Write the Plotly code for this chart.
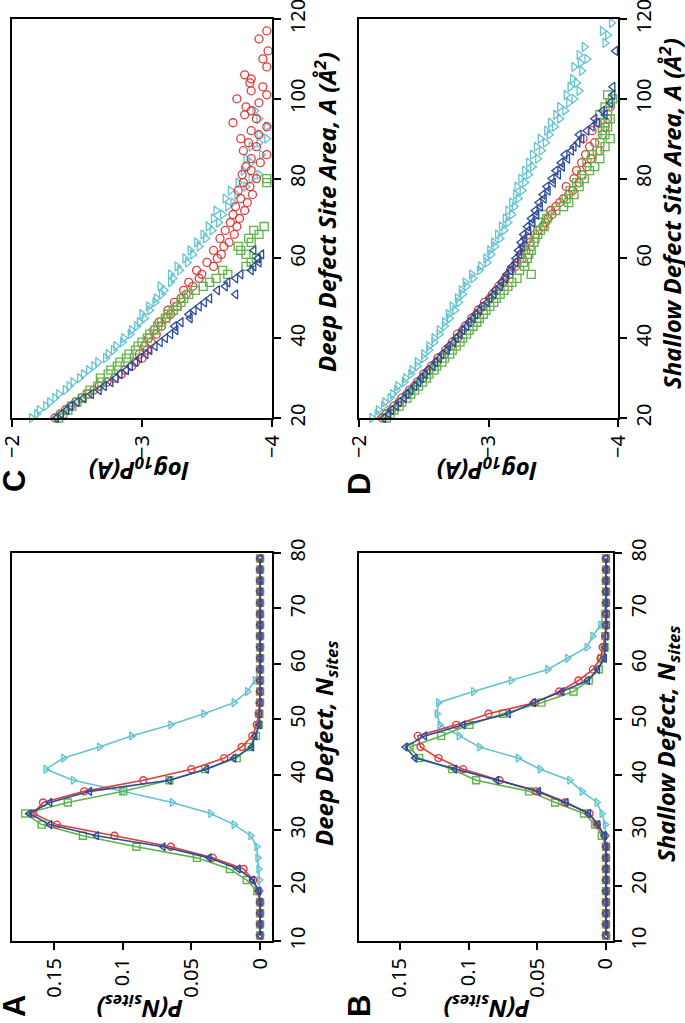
import plotly.graph_objects as go

W, H = 685, 1023

# ---------------- Panels A / B : distributions of N_sites ----------------
N_sites = list(range(11, 80, 2))

deep_red = [0, 0, 0, 0, 0.001, 0.005, 0.012, 0.0345, 0.065, 0.106, 0.148, 0.165, 0.158, 0.128,
            0.085, 0.050, 0.026, 0.0134, 0.0056, 0.0024, 0.001, 0.0003,
            0, 0, 0, 0, 0, 0, 0, 0, 0, 0, 0, 0, 0]
deep_green = [0, 0, 0, 0, 0.002, 0.0097, 0.022, 0.046, 0.090, 0.129, 0.159, 0.171, 0.140, 0.0996,
              0.066, 0.040, 0.017, 0.008, 0.003, 0.001, 0.0005, 0.0,
              0, 0, 0, 0, 0, 0, 0, 0, 0, 0, 0, 0, 0]
deep_blue = [0, 0, 0, 0, 0.001, 0.0053, 0.0158, 0.037, 0.0705, 0.119, 0.153, 0.168, 0.153, 0.124,
             0.066, 0.039, 0.019, 0.006, 0.0036, 0.0005, 0.0003, 0.0,
             0, 0, 0, 0, 0, 0, 0, 0, 0, 0, 0, 0, 0]
deep_cyan = [0, 0, 0, 0, 0.0003, 0.0005, 0.001, 0.0017, 0.0024, 0.0068, 0.019, 0.036, 0.064, 0.100,
             0.136, 0.156, 0.143, 0.117, 0.0936, 0.065, 0.041, 0.019, 0.0092, 0.0036, 0.0005,
             0, 0, 0, 0, 0, 0, 0, 0, 0, 0]

shal_red = [0, 0, 0, 0, 0, 0, 0, 0, 0, 0.001, 0.0066, 0.012, 0.030, 0.051, 0.0775, 0.104, 0.122,
            0.135, 0.137, 0.109, 0.0855, 0.052, 0.034, 0.020, 0.0095, 0.004, 0.0024, 0.0005,
            0, 0, 0, 0, 0, 0, 0]
shal_green = [0, 0, 0, 0, 0, 0, 0, 0, 0, 0.003, 0.0078, 0.016, 0.037, 0.056, 0.0945, 0.112, 0.136,
              0.143, 0.120, 0.0994, 0.075, 0.047, 0.0236, 0.0126, 0.0053, 0.003, 0.001, 0.0005,
              0, 0, 0, 0, 0, 0, 0]
shal_blue = [0, 0, 0, 0, 0, 0, 0, 0, 0, 0.001, 0.0058, 0.0126, 0.029, 0.049, 0.0795, 0.110, 0.139,
             0.146, 0.132, 0.104, 0.071, 0.0527, 0.032, 0.0134, 0.006, 0.001, 0.0005, 0.0,
             0, 0, 0, 0, 0, 0, 0]
shal_cyan = [0, 0, 0, 0, 0, 0, 0, 0, 0, 0, 0.0005, 0.003, 0.0066, 0.0175, 0.0265, 0.048, 0.064,
             0.092, 0.107, 0.121, 0.123, 0.122, 0.0965, 0.069, 0.0425, 0.028, 0.0139, 0.0097,
             0.004, 0.002, 0, 0, 0, 0, 0]

# ---------------- Panel C : deep defect site area ----------------
C_cyan_A = list(range(20, 82)) + [82, 84, 85, 86, 88, 89, 90, 91, 93, 95, 97]
C_cyan_logP = [-2.15, -2.19, -2.21, -2.26, -2.29, -2.33, -2.36, -2.41, -2.44, -2.47,
               -2.52, -2.55, -2.59, -2.63, -2.66, -2.72, -2.74, -2.78, -2.80, -2.85,
               -2.86, -2.91, -2.92, -2.96, -2.98, -3.02, -3.00, -3.06, -3.05, -3.10,
               -3.11, -3.15, -3.17, -3.14, -3.22, -3.24, -3.22, -3.29, -3.27, -3.35,
               -3.33, -3.39, -3.37, -3.44, -3.42, -3.49, -3.47, -3.54, -3.51, -3.59,
               -3.55, -3.62, -3.57, -3.66, -3.70, -3.64, -3.73, -3.68, -3.80, -3.74,
               -3.84, -3.90,
               -3.78, -3.84, -3.80, -3.92, -3.84, -3.90, -3.96, -3.90, -3.96, -3.90, -3.87]

C_red_A = list(range(20, 87)) + [87, 88, 89, 90, 91, 92, 93, 94, 95, 96, 97, 98, 99, 100,
                                 101, 102, 103, 104, 105, 106, 108, 110, 112, 115, 117]
C_red_logP = [-2.33, -2.37, -2.41, -2.45, -2.49, -2.54, -2.58, -2.63, -2.67, -2.73,
              -2.79, -2.84, -2.87, -2.92, -2.95, -3.00, -2.98, -3.04, -3.02, -3.07,
              -3.05, -3.11, -3.09, -3.15, -3.13, -3.19, -3.22, -3.20, -3.27, -3.25,
              -3.30, -3.34, -3.32, -3.39, -3.36, -3.44, -3.46, -3.42, -3.55, -3.50,
              -3.58, -3.61, -3.55, -3.63, -3.67, -3.60, -3.71, -3.64, -3.73, -3.68,
              -3.75, -3.70, -3.79, -3.72, -3.81, -3.76, -3.85, -3.74, -3.83, -3.78,
              -3.88, -3.77, -3.84, -3.80, -3.91, -3.84, -3.96,
              -3.78, -3.88, -3.82, -3.76, -3.90, -3.84, -3.96, -3.70, -3.88, -3.79,
              -3.84, -3.80, -3.90, -3.73, -3.96, -3.84, -3.93, -3.83, -3.84, -3.79,
              -3.96, -3.93, -3.97, -3.90, -3.96]

C_green_A = list(range(20, 69)) + [79, 80]
C_green_logP = [-2.36, -2.39, -2.43, -2.46, -2.50, -2.54, -2.58, -2.60, -2.66, -2.69,
                -2.68, -2.74, -2.76, -2.81, -2.83, -2.88, -2.90, -2.95, -2.97, -3.00,
                -3.04, -3.06, -3.10, -3.12, -3.15, -3.18, -3.20, -3.24, -3.27, -3.30,
                -3.32, -3.36, -3.41, -3.47, -3.52, -3.57, -3.66, -3.62, -3.80, -3.84,
                -3.88, -3.80, -3.76, -3.74, -3.84, -3.82, -3.90, -3.86, -3.94,
                -3.96, -3.96]

C_blue_A = list(range(20, 63))
C_blue_logP = [-2.34, -2.38, -2.42, -2.45, -2.50, -2.55, -2.61, -2.67, -2.71, -2.76,
               -2.80, -2.83, -2.88, -2.91, -2.95, -2.98, -3.03, -3.06, -3.10, -3.14,
               -3.18, -3.22, -3.26, -3.25, -3.30, -3.37, -3.36, -3.40, -3.44, -3.48,
               -3.52, -3.72, -3.58, -3.64, -3.66, -3.72, -3.76, -3.84, -3.86, -3.90,
               -3.89, -3.92, -3.86]

# ---------------- Panel D : shallow defect site area ----------------
D_cyan_A = list(range(20, 106)) + [107, 108, 109, 110, 111, 113, 114, 116, 117, 119]
D_cyan_logP = [-2.10, -2.14, -2.15, -2.19, -2.20, -2.24, -2.26, -2.29, -2.30, -2.35,
               -2.36, -2.40, -2.41, -2.45, -2.45, -2.50, -2.50, -2.54, -2.54, -2.58,
               -2.58, -2.62, -2.62, -2.66, -2.66, -2.70, -2.69, -2.74, -2.72, -2.77,
               -2.76, -2.80, -2.79, -2.83, -2.82, -2.88, -2.87, -2.93, -2.94, -2.99,
               -2.98, -3.02, -3.01, -3.05, -3.04, -3.09, -3.07, -3.12, -3.10, -3.15,
               -3.13, -3.18, -3.15, -3.20, -3.18, -3.23, -3.21, -3.26, -3.22, -3.28,
               -3.25, -3.31, -3.28, -3.34, -3.31, -3.38, -3.34, -3.41, -3.37, -3.44,
               -3.40, -3.47, -3.45, -3.51, -3.48, -3.55, -3.52, -3.59, -3.55, -3.62,
               -3.66, -3.60, -3.70, -3.63, -3.68, -3.65,
               -3.72, -3.66, -3.71, -3.76, -3.70, -3.74, -3.90, -3.92, -3.88, -3.95]

D_blue_A = list(range(20, 98)) + [99, 101, 103, 112]
D_blue_logP = [-2.19, -2.23, -2.25, -2.29, -2.31, -2.35, -2.37, -2.40, -2.43, -2.46,
               -2.48, -2.51, -2.53, -2.57, -2.59, -2.62, -2.64, -2.68, -2.69, -2.73,
               -2.75, -2.78, -2.80, -2.83, -2.85, -2.88, -2.90, -2.93, -2.95, -2.99,
               -3.01, -3.04, -3.05, -3.09, -3.10, -3.13, -3.14, -3.17, -3.18, -3.21,
               -3.21, -3.24, -3.23, -3.26, -3.25, -3.28, -3.27, -3.31, -3.30, -3.34,
               -3.33, -3.37, -3.36, -3.40, -3.39, -3.43, -3.42, -3.46, -3.45, -3.50,
               -3.49, -3.54, -3.52, -3.57, -3.56, -3.61, -3.59, -3.64, -3.66, -3.69,
               -3.72, -3.70, -3.76, -3.80, -3.84, -3.82, -3.90, -3.88,
               -3.94, -3.96, -3.96, -3.98]

D_red_A = list(range(20, 96)) + [98]
D_red_logP = [-2.18, -2.21, -2.25, -2.27, -2.31, -2.33, -2.37, -2.39, -2.43, -2.45,
              -2.49, -2.50, -2.54, -2.56, -2.60, -2.61, -2.66, -2.67, -2.71, -2.72,
              -2.76, -2.76, -2.80, -2.82, -2.86, -2.87, -2.91, -2.92, -2.96, -2.97,
              -3.01, -3.03, -3.06, -3.08, -3.11, -3.13, -3.16, -3.17, -3.21, -3.22,
              -3.26, -3.25, -3.29, -3.28, -3.32, -3.31, -3.36, -3.38, -3.42, -3.44,
              -3.46, -3.49, -3.48, -3.52, -3.55, -3.58, -3.62, -3.65, -3.60, -3.70,
              -3.66, -3.72, -3.68, -3.76, -3.72, -3.79, -3.75, -3.86, -3.78, -3.82,
              -3.73, -3.88, -3.80, -3.90, -3.84, -3.92,
              -3.94]

D_green_A = list(range(20, 102))
D_green_logP = [-2.21, -2.24, -2.27, -2.31, -2.33, -2.37, -2.40, -2.43, -2.46, -2.49,
                -2.52, -2.54, -2.58, -2.60, -2.64, -2.66, -2.70, -2.72, -2.75, -2.78,
                -2.80, -2.83, -2.85, -2.88, -2.91, -2.93, -2.96, -2.98, -3.01, -3.04,
                -3.06, -3.09, -3.12, -3.15, -3.18, -3.22, -3.33, -3.24, -3.28, -3.27,
                -3.30, -3.31, -3.33, -3.32, -3.35, -3.36, -3.38, -3.40, -3.43, -3.39,
                -3.45, -3.42, -3.52, -3.58, -3.62, -3.60, -3.66, -3.63, -3.70, -3.68,
                -3.74, -3.72, -3.78, -3.82, -3.76, -3.86, -3.80, -3.84, -3.90, -3.86,
                -3.94, -3.90, -3.88, -3.92, -3.90, -3.94, -3.86, -3.92, -3.90, -3.94,
                -3.96, -3.92]

# ---------------- styling ----------------
RED = "#E23B3B"
GREEN = "#5DB548"
BLUE = "#2C4C9A"
CYAN = "#64C3D1"
FONT = "Noto Sans"

styles = {
    "red": dict(symbol="circle-open", color=RED),
    "green": dict(symbol="square-open", color=GREEN),
    "blue": dict(symbol="triangle-left-open", color=BLUE),
    "cyan": dict(symbol="triangle-right-open", color=CYAN),
}


def px2x(px):
    return px / W


def px2y(py):
    return 1 - py / H


fig = go.Figure()

# panel geometry in pixels: (left, right, top, bottom)
geo = {
    "C": (12, 272, 19, 418),
    "D": (359, 618, 19, 418),
    "A": (12, 272, 553, 941),
    "B": (359, 613, 553, 941),
}
axis_ids = {"C": ("x", "y"), "D": ("x2", "y2"), "A": ("x3", "y3"), "B": ("x4", "y4")}


def add_dist(panel, series):
    xa, ya = axis_ids[panel]
    for key, vals in series:
        st = styles[key]
        fig.add_trace(go.Scatter(
            x=vals, y=N_sites, xaxis=xa, yaxis=ya, mode="lines+markers",
            line=dict(color=st["color"], width=1.6),
            marker=dict(symbol=st["symbol"], color=st["color"], size=7,
                        line=dict(width=1.4, color=st["color"])),
            showlegend=False, cliponaxis=False))


def add_area(panel, series):
    xa, ya = axis_ids[panel]
    for key, A, lp in series:
        st = styles[key]
        fig.add_trace(go.Scatter(
            x=lp, y=A, xaxis=xa, yaxis=ya, mode="markers",
            marker=dict(symbol=st["symbol"], color=st["color"], size=8,
                        line=dict(width=1.3, color=st["color"])),
            showlegend=False, cliponaxis=False))


add_area("C", [("cyan", C_cyan_A, C_cyan_logP), ("red", C_red_A, C_red_logP),
               ("green", C_green_A, C_green_logP), ("blue", C_blue_A, C_blue_logP)])
add_area("D", [("cyan", D_cyan_A, D_cyan_logP), ("red", D_red_A, D_red_logP),
               ("green", D_green_A, D_green_logP), ("blue", D_blue_A, D_blue_logP)])
add_dist("A", [("cyan", deep_cyan), ("green", deep_green), ("red", deep_red), ("blue", deep_blue)])
add_dist("B", [("cyan", shal_cyan), ("green", shal_green), ("red", shal_red), ("blue", shal_blue)])

tickfont = dict(family=FONT, size=20, color="black")
common = dict(showline=True, linecolor="black", linewidth=2, mirror=True, ticks="outside",
              ticklen=7, tickwidth=2, tickcolor="black", showgrid=False, zeroline=False,
              tickangle=-90, tickfont=tickfont, automargin=False, ticklabeloverflow="allow")

layout = {}
for panel, (l, r, t, b) in geo.items():
    xa, ya = axis_ids[panel]
    xkey = "xaxis" if xa == "x" else "xaxis" + xa[1:]
    ykey = "yaxis" if ya == "y" else "yaxis" + ya[1:]
    xd = [px2x(l), px2x(r)]
    yd = [px2y(b), px2y(t)]
    if panel in ("C", "D"):
        layout[xkey] = dict(domain=xd, anchor=ya, range=[-2, -4], tickvals=[-2, -3, -4],
                            side="bottom", **common)
        layout[ykey] = dict(domain=yd, anchor=xa, range=[20, 120], tickvals=[20, 40, 60, 80, 100, 120],
                            side="right", **common)
    else:
        xr = [0.1806, -0.0087] if panel == "A" else [0.1798, -0.0051]
        layout[xkey] = dict(domain=xd, anchor=ya, range=xr, tickvals=[0, 0.05, 0.1, 0.15],
                            ticktext=["0", "0.05", "0.1", "0.15"], side="bottom", **common)
        layout[ykey] = dict(domain=yd, anchor=xa, range=[10, 80],
                            tickvals=[10, 20, 30, 40, 50, 60, 70, 80], side="right", **common)

fig.update_layout(**layout)

title_font = dict(family=FONT, size=24, color="black")
ann = []


def add_text(text, px, py, angle, font):
    ann.append(dict(text=text, x=px2x(px), y=px2y(py), xref="paper", yref="paper",
                    xanchor="center", yanchor="middle", showarrow=False, textangle=angle,
                    font=font))


# vertical axis titles (reading bottom-to-top)
add_text("<b><i>Deep Defect Site Area, A (Å<sup>2</sup>)</i></b>", 325, 212, -90, title_font)
add_text("<b><i>Shallow Defect Site Area, A (Å<sup>2</sup>)</i></b>", 670, 214, -90, title_font)
add_text("<b><i>Deep Defect, N<sub>sites</sub></i></b>", 325, 744, -90, title_font)
add_text("<b><i>Shallow Defect, N<sub>sites</sub></i></b>", 667, 744, -90, title_font)

# upside-down axis titles
add_text("<b><i>log<sub>10</sub>P(A)</i></b>", 139, 470, 180, title_font)
add_text("<b><i>log<sub>10</sub>P(A)</i></b>", 487, 470, 180, title_font)
add_text("<b><i>P(N<sub>sites</sub>)</i></b>", 140, 1008, 180, title_font)
add_text("<b><i>P(N<sub>sites</sub>)</i></b>", 487, 1008, 180, title_font)

# panel letters
letter_font = dict(family="Liberation Sans", size=31, color="black")
add_text("<b>C</b>", 14, 481, -90, letter_font)
add_text("<b>D</b>", 359, 484, -90, letter_font)
add_text("<b>A</b>", 14, 1006, -90, letter_font)
add_text("<b>B</b>", 359, 1006, -90, letter_font)

fig.update_layout(width=W, height=H, margin=dict(l=0, r=0, t=0, b=0, pad=0, autoexpand=False),
                  paper_bgcolor="white", plot_bgcolor="white", showlegend=False,
                  annotations=ann, font=dict(family=FONT), hovermode=False)

fig.write_html("out.html",
               config={"displayModeBar": False, "staticPlot": True},
               post_script="document.body.style.margin='0';"
                           "document.body.style.overflow='hidden';")
